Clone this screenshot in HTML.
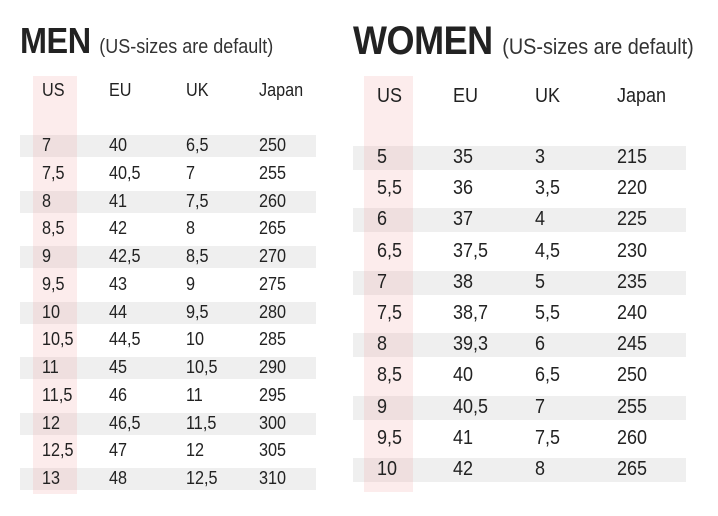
<!DOCTYPE html>
<html><head><meta charset="utf-8"><style>
body{margin:0;background:#fff;}
#c{position:relative;width:718px;height:516px;overflow:hidden;font-family:"Liberation Sans",sans-serif;color:#222;}
.a{position:absolute;}
.t{position:absolute;white-space:nowrap;transform-origin:0 50%;}
</style></head><body>
<div id="c">
<div class="t" style="left:20px;top:20px;font-size:36px;font-weight:bold;transform:scaleX(0.9);letter-spacing:-0.5px">MEN <span style="font-size:20px;font-weight:normal;color:#333;letter-spacing:0">(US-sizes are default)</span></div>
<div class="t" style="left:353px;top:19px;font-size:40px;font-weight:bold;transform:scaleX(0.9);letter-spacing:-0.5px">WOMEN <span style="font-size:22px;font-weight:normal;color:#333;letter-spacing:0">(US-sizes are default)</span></div>
</div>
<script>
const menUS=["7","7,5","8","8,5","9","9,5","10","10,5","11","11,5","12","12,5","13"];
const menEU=["40","40,5","41","42","42,5","43","44","44,5","45","46","46,5","47","48"];
const menUK=["6,5","7","7,5","8","8,5","9","9,5","10","10,5","11","11,5","12","12,5"];
const menJP=["250","255","260","265","270","275","280","285","290","295","300","305","310"];
const womenUS=["5","5,5","6","6,5","7","7,5","8","8,5","9","9,5","10"];
const womenEU=["35","36","37","37,5","38","38,7","39,3","40","40,5","41","42"];
const womenUK=["3","3,5","4","4,5","5","5,5","6","6,5","7","7,5","8"];
const womenJP=["215","220","225","230","235","240","245","250","255","260","265"];
const headers=["US","EU","UK","Japan"];
const c=document.getElementById('c');
function box(l,t,w,h,bg,name){const d=document.createElement('div');d.className='a';d.style.cssText=`left:${l}px;top:${t}px;width:${w}px;height:${h}px;background:${bg}`;


c.appendChild(d);}
function txt(x,y,s,fs,name){const d=document.createElement('div');d.className='t';d.textContent=s;d.style.cssText=`left:${x}px;top:${y-fs*0.6}px;font-size:${fs}px;transform:scaleX(0.9)`;


c.appendChild(d);}
function table(p,cols){
 const n=cols[0].length;
 for(let i=0;i<n;i+=2) box(p.gx,p.y0+i*p.dy-p.rh/2,p.gw,p.rh,'#efefef',p.k+'-row-band');
 box(p.px,p.py,p.pw,p.ph,'rgba(240,160,160,0.2)',p.k+'-us-column-highlight');
 headers.forEach((h,j)=>txt(p.cx[j],p.hy,h,p.fs,p.k+'-header-'+h.toLowerCase()));
 for(let i=0;i<n;i++) cols.forEach((col,j)=>txt(p.cx[j],p.y0+i*p.dy,col[i],p.fs,p.k+'-cell'));
}
table({k:'men',gx:20,gw:296,rh:22,y0:146,dy:27.75,px:33,py:76,pw:44,ph:418,cx:[42,109,186,259],hy:91,fs:18},[menUS,menEU,menUK,menJP]);
table({k:'women',gx:353,gw:333,rh:24,y0:158,dy:31.2,px:364,py:76,pw:49,ph:416,cx:[377,453,535,617],hy:97,fs:20},[womenUS,womenEU,womenUK,womenJP]);
</script>
</body></html>
